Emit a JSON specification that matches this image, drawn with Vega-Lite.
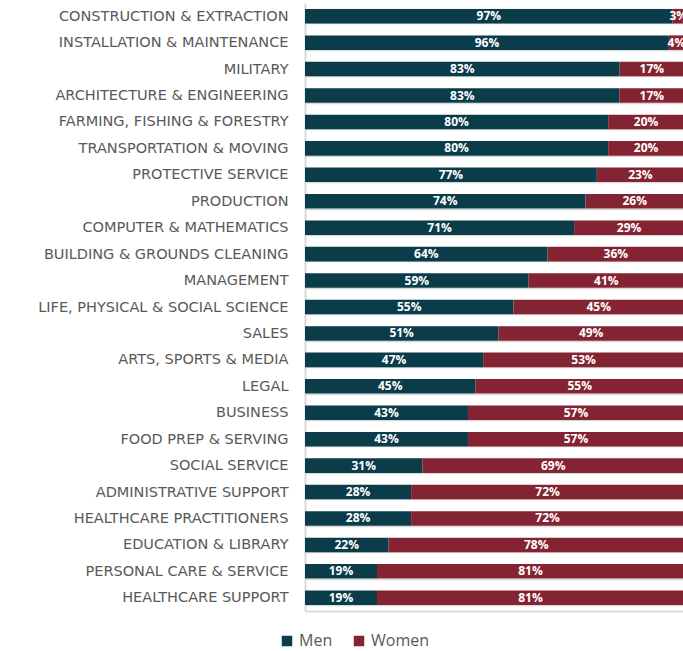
{
  "$schema": "https://vega.github.io/schema/vega-lite/v6.json",
  "width": 379,
  "height": 608,
  "autosize": {"type": "none"},
  "padding": {"left": 305, "top": 3, "right": 0, "bottom": 40},
  "background": "white",
  "config": {"view": {"stroke": null}},
  "data": {
    "values": [
      {"occupation": "CONSTRUCTION & EXTRACTION", "gender": "Men", "pct": 0.97},
      {"occupation": "CONSTRUCTION & EXTRACTION", "gender": "Women", "pct": 0.03},
      {"occupation": "INSTALLATION & MAINTENANCE", "gender": "Men", "pct": 0.96},
      {"occupation": "INSTALLATION & MAINTENANCE", "gender": "Women", "pct": 0.04},
      {"occupation": "MILITARY", "gender": "Men", "pct": 0.83},
      {"occupation": "MILITARY", "gender": "Women", "pct": 0.17},
      {"occupation": "ARCHITECTURE & ENGINEERING", "gender": "Men", "pct": 0.83},
      {"occupation": "ARCHITECTURE & ENGINEERING", "gender": "Women", "pct": 0.17},
      {"occupation": "FARMING, FISHING & FORESTRY", "gender": "Men", "pct": 0.80},
      {"occupation": "FARMING, FISHING & FORESTRY", "gender": "Women", "pct": 0.20},
      {"occupation": "TRANSPORTATION & MOVING", "gender": "Men", "pct": 0.80},
      {"occupation": "TRANSPORTATION & MOVING", "gender": "Women", "pct": 0.20},
      {"occupation": "PROTECTIVE SERVICE", "gender": "Men", "pct": 0.77},
      {"occupation": "PROTECTIVE SERVICE", "gender": "Women", "pct": 0.23},
      {"occupation": "PRODUCTION", "gender": "Men", "pct": 0.74},
      {"occupation": "PRODUCTION", "gender": "Women", "pct": 0.26},
      {"occupation": "COMPUTER & MATHEMATICS", "gender": "Men", "pct": 0.71},
      {"occupation": "COMPUTER & MATHEMATICS", "gender": "Women", "pct": 0.29},
      {"occupation": "BUILDING & GROUNDS CLEANING", "gender": "Men", "pct": 0.64},
      {"occupation": "BUILDING & GROUNDS CLEANING", "gender": "Women", "pct": 0.36},
      {"occupation": "MANAGEMENT", "gender": "Men", "pct": 0.59},
      {"occupation": "MANAGEMENT", "gender": "Women", "pct": 0.41},
      {"occupation": "LIFE, PHYSICAL & SOCIAL SCIENCE", "gender": "Men", "pct": 0.55},
      {"occupation": "LIFE, PHYSICAL & SOCIAL SCIENCE", "gender": "Women", "pct": 0.45},
      {"occupation": "SALES", "gender": "Men", "pct": 0.51},
      {"occupation": "SALES", "gender": "Women", "pct": 0.49},
      {"occupation": "ARTS, SPORTS & MEDIA", "gender": "Men", "pct": 0.47},
      {"occupation": "ARTS, SPORTS & MEDIA", "gender": "Women", "pct": 0.53},
      {"occupation": "LEGAL", "gender": "Men", "pct": 0.45},
      {"occupation": "LEGAL", "gender": "Women", "pct": 0.55},
      {"occupation": "BUSINESS ", "gender": "Men", "pct": 0.43},
      {"occupation": "BUSINESS ", "gender": "Women", "pct": 0.57},
      {"occupation": "FOOD PREP & SERVING", "gender": "Men", "pct": 0.43},
      {"occupation": "FOOD PREP & SERVING", "gender": "Women", "pct": 0.57},
      {"occupation": "SOCIAL SERVICE", "gender": "Men", "pct": 0.31},
      {"occupation": "SOCIAL SERVICE", "gender": "Women", "pct": 0.69},
      {"occupation": "ADMINISTRATIVE SUPPORT", "gender": "Men", "pct": 0.28},
      {"occupation": "ADMINISTRATIVE SUPPORT", "gender": "Women", "pct": 0.72},
      {"occupation": "HEALTHCARE PRACTITIONERS", "gender": "Men", "pct": 0.28},
      {"occupation": "HEALTHCARE PRACTITIONERS", "gender": "Women", "pct": 0.72},
      {"occupation": "EDUCATION & LIBRARY", "gender": "Men", "pct": 0.22},
      {"occupation": "EDUCATION & LIBRARY", "gender": "Women", "pct": 0.78},
      {"occupation": "PERSONAL CARE & SERVICE", "gender": "Men", "pct": 0.19},
      {"occupation": "PERSONAL CARE & SERVICE", "gender": "Women", "pct": 0.81},
      {"occupation": "HEALTHCARE SUPPORT", "gender": "Men", "pct": 0.19},
      {"occupation": "HEALTHCARE SUPPORT", "gender": "Women", "pct": 0.81}
    ]
  },
  "encoding": {
    "y": {
      "field": "occupation",
      "type": "nominal",
      "sort": null,
      "title": null,
      "scale": {"paddingInner": 0.45, "paddingOuter": 0.225},
      "axis": {
        "domain": true,
        "domainColor": "#d9d9d9",
        "domainWidth": 2,
        "ticks": false,
        "grid": true,
        "gridColor": "#d9d9d9",
        "gridWidth": 1.5,
        "tickBand": "extent",
        "labelColor": "#595959",
        "labelFont": "DejaVu Sans",
        "labelFontSize": 14.5,
        "labelPadding": 17,
        "labelLimit": 400
      }
    }
  },
  "layer": [
    {
      "mark": {"type": "bar"},
      "encoding": {
        "x": {
          "field": "pct",
          "type": "quantitative",
          "stack": "zero",
          "scale": {"domain": [0, 1]},
          "axis": {"domain": true, "domainColor": "#d9d9d9", "domainWidth": 2, "labels": false, "ticks": false, "grid": false, "title": null}
        },
        "color": {
          "field": "gender",
          "type": "nominal",
          "scale": {"domain": ["Men", "Women"], "range": ["#0b3c4a", "#842432"]},
          "legend": {
            "orient": "none",
            "legendX": -26,
            "legendY": 630,
            "direction": "horizontal",
            "title": null,
            "symbolType": "square",
            "symbolSize": 110,
            "symbolStrokeWidth": 0,
            "labelFont": "Open Sans",
            "labelFontSize": 16,
            "labelColor": "#595959",
            "columnPadding": 18,
            "labelOffset": 4
          }
        }
      }
    },
    {
      "transform": [{"filter": {"field": "gender", "equal": "Men"}}],
      "mark": {"type": "text", "color": "white", "font": "Open Sans", "fontSize": 12, "fontWeight": "bold", "baseline": "middle", "align": "center"},
      "encoding": {
        "x": {"field": "pct", "type": "quantitative", "scale": {"domain": [0, 2]}, "axis": null},
        "text": {"field": "pct", "type": "quantitative", "format": ".0%"}
      }
    },
    {
      "transform": [{"filter": {"field": "gender", "equal": "Women"}}],
      "mark": {"type": "text", "color": "white", "font": "Open Sans", "fontSize": 12, "fontWeight": "bold", "baseline": "middle", "align": "center"},
      "encoding": {
        "x": {"field": "pct", "type": "quantitative", "scale": {"domain": [0, 2], "reverse": true}, "axis": null},
        "text": {"field": "pct", "type": "quantitative", "format": ".0%"}
      }
    }
  ],
  "resolve": {"scale": {"x": "independent"}}
}
